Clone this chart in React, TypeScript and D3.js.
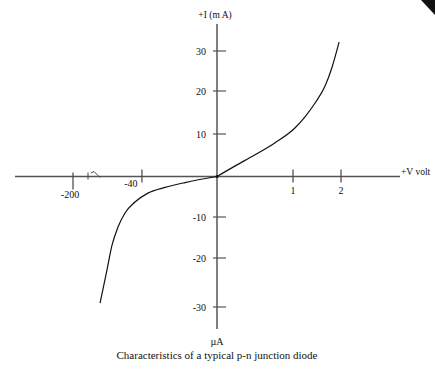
import React from "react";
import * as d3 from "d3";

// Forward bias: voltage (V) vs current (mA)
const forwardV = [0, 0.24, 0.5, 0.76, 1.04, 1.25, 1.46, 1.67, 1.81, 1.96];
const forwardI = [0, 2.5, 5.1, 7.9, 11.4, 14.0, 17.2, 21.3, 25.8, 32.2];
// Reverse bias: voltage (V) vs current (µA)
const reverseV = [0, -17, -27.7, -36.8, -43.7, -49, -52.7, -56, -58.6, -62.3];
const reverseI = [0, -1.5, -2.7, -4.1, -6.3, -9, -12.4, -17, -22.4, -29.2];

const yTicks = [30, 20, 10, -10, -20, -30];
const xTicks = [-200, -40, 1, 2];

const W = 435;
const H = 375;
const serif = "'Liberation Serif', 'DejaVu Serif', serif";

export default function App() {
  // Hand-scaled axes: mixed units on each side of the origin, plus a break on the V axis
  const x = d3.scaleLinear().domain([-200, -65, 0, 1, 2]).range([73, 95, 217, 293, 341]);
  const y = d3
    .scaleLinear()
    .domain([-30, -20, -10, 0, 10, 20, 30])
    .range([307, 258, 217, 176.5, 134, 91, 51]);

  const line = d3
    .line<[number, number]>()
    .x((d) => x(d[0]))
    .y((d) => y(d[1]))
    .curve(d3.curveMonotoneX);

  const fwd = forwardV.map((v, i) => [v, forwardI[i]] as [number, number]);
  const rev = reverseV
    .map((v, i) => [v, reverseI[i]] as [number, number])
    .sort((a, b) => a[0] - b[0]);

  const x0 = x(0);
  const y0 = y(0);
  const breakX = 88;

  return (
    <svg
      width={W}
      height={H}
      style={{ position: "absolute", left: 0, top: 0, background: "#fff" }}
      fontFamily={serif}
    >
      <rect width={W} height={H} fill="#fff" />
      {/* corner mark */}
      <polygon points={`421,0 ${W},0 ${W},15`} fill="#111" />

      {/* axes */}
      <line x1={15} x2={400} y1={y0} y2={y0} stroke="#555" strokeWidth={1.5} />
      <line x1={x0} x2={x0} y1={24} y2={329} stroke="#808080" strokeWidth={2} />

      {/* y ticks */}
      {yTicks.map((t) => (
        <g key={t}>
          <line x1={x0 - 4} x2={x0 + 9} y1={y(t)} y2={y(t)} stroke="#555" strokeWidth={1.2} />
          <text
            x={x0 - 11}
            y={y(t)}
            dy="0.35em"
            textAnchor="end"
            fontSize={10}
            fill="#111"
          >
            {t}
          </text>
        </g>
      ))}

      {/* x ticks */}
      {xTicks.map((t) => {
        const px = x(t);
        const top = t === -200 ? y0 - 4 : y0 - 7;
        const bot = t === -200 ? y0 + 13 : y0 + 6;
        let lx = px;
        let ly = y0 + 17;
        if (t === -40) {
          lx = px - 11;
          ly = y0 + 10;
        }
        if (t === -200) {
          lx = px - 3;
          ly = y0 + 21;
        }
        return (
          <g key={t}>
            <line x1={px} x2={px} y1={top} y2={bot} stroke="#444" strokeWidth={1.2} />
            <text x={lx} y={ly} textAnchor="middle" fontSize={10} fill="#111">
              {t}
            </text>
          </g>
        );
      })}

      {/* axis break on the voltage axis */}
      <line x1={breakX} x2={breakX} y1={y0 - 4} y2={y0 + 3} stroke="#444" strokeWidth={1} />
      <path
        d={`M${breakX + 3},${y0 - 3.5} L${breakX + 6},${y0 - 5} L${breakX + 12},${y0 + 1}`}
        fill="none"
        stroke="#444"
        strokeWidth={1}
      />

      {/* characteristic curve */}
      <path d={line(fwd) ?? ""} fill="none" stroke="#111" strokeWidth={1.2} />
      <path d={line(rev) ?? ""} fill="none" stroke="#111" strokeWidth={1.2} />
      <circle cx={x0} cy={y0} r={1.6} fill="#111" />

      {/* axis titles */}
      <text x={x0 - 2} y={18} textAnchor="middle" fontSize={9.5} fill="#111">
        +I (m A)
      </text>
      <text x={401} y={y0 - 2} fontSize={9.5} fill="#111">
        +V volt
      </text>
      <text x={x0} y={345} textAnchor="middle" fontSize={10} fill="#111">
        µA
      </text>
      <text x={x0} y={359} textAnchor="middle" fontSize={11} fill="#111">
        Characteristics of a typical p-n junction diode
      </text>
    </svg>
  );
}
